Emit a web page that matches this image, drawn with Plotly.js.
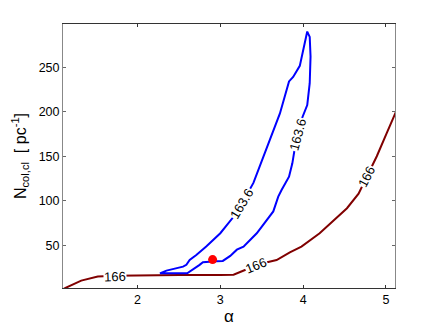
<!DOCTYPE html>
<html>
<head>
<meta charset="utf-8">
<script src="https://cdn.plot.ly/plotly-3.0.1.min.js"></script>
<style>html,body{margin:0;padding:0;background:#fff}#chart{width:436px;height:328px}</style>
</head>
<body>
<div id="chart"></div>
<script>
// Contour level 166 (dark red)
var level166X = [1.10, 1.13, 1.32, 1.52, 1.73, 2.0, 2.5, 3.0, 3.16, 3.32, 3.43, 3.54, 3.68, 3.84, 3.98, 4.2, 4.4, 4.53, 4.67, 4.77, 4.89, 5.01, 5.11, 5.15];
var level166Y = [0.5, 2.1, 10.3, 14.8, 15.8, 16.3, 16.5, 16.6, 16.9, 23.0, 27.5, 30.4, 33.4, 42.0, 48.5, 63.5, 80.0, 91.6, 108, 127, 150, 176, 196.5, 206];
// Contour level 163.6 (blue, closed loop)
var level1636X = [2.27, 2.35, 2.55, 2.59, 2.63, 2.71, 2.83, 3.00, 3.16, 3.26, 3.40, 3.52, 3.64, 3.72, 3.83, 3.88, 3.96, 4.00, 4.05, 4.08, 4.09, 4.08, 4.05, 3.98, 3.94, 3.90, 3.87, 3.83, 3.74, 3.70, 3.64, 3.56, 3.44, 3.28, 3.20, 3.12, 3.03, 2.95, 2.79, 2.75, 2.69, 2.60, 2.27];
var level1636Y = [18.5, 21.5, 26.0, 28.0, 33.5, 39.0, 48.5, 63.5, 82.0, 97.0, 120, 150, 178, 198, 234, 239, 251.5, 269.5, 290, 284, 262, 232, 207.5, 191, 174, 159, 142, 127, 112, 104.7, 88.0, 78.5, 63.5, 48.5, 45.0, 38.0, 32.4, 32.0, 31.0, 28.0, 24.0, 18.5, 18.5];
// Marked point
var pointX = [2.907];
var pointY = [33.9];
// Contour labels
var labelText = ["166", "166", "166", "163.6", "163.6"];
var labelX = [1.734, 3.427, 4.77, 3.258, 3.94];
var labelY = [15.4, 27.8, 127, 97.3, 174];
var labelAngle = [-2, -22, -63, -59, -75];

var xTicks = [2, 3, 4, 5];
var yTicks = [50, 100, 150, 200, 250];

var traces = [
  {x: level166X, y: level166Y, type: 'scatter', mode: 'lines', line: {color: '#800000', width: 2}, hoverinfo: 'skip'},
  {x: level1636X, y: level1636Y, type: 'scatter', mode: 'lines', line: {color: '#0000ff', width: 2}, hoverinfo: 'skip'},
  {x: pointX, y: pointY, type: 'scatter', mode: 'markers', marker: {color: '#ff0000', size: 9}, hoverinfo: 'skip'}
];

var annotations = labelText.map(function (t, i) {
  return {x: labelX[i], y: labelY[i], xref: 'x', yref: 'y', text: t, showarrow: false,
    textangle: labelAngle[i], bgcolor: '#ffffff', borderpad: 0,
    font: {family: 'Liberation Sans, Arial, sans-serif', size: 13, color: '#000'}};
});

var layout = {
  width: 436, height: 328,
  margin: {l: 63, r: 41, t: 24, b: 40},
  paper_bgcolor: '#ffffff', plot_bgcolor: '#ffffff',
  showlegend: false,
  font: {family: 'Liberation Sans, Arial, sans-serif', size: 12.5, color: '#000'},
  xaxis: {
    range: [1.1, 5.11], tickvals: xTicks, ticks: 'inside', ticklen: 3, tickcolor: '#333',
    showline: true, linecolor: '#333', linewidth: 1, mirror: 'ticks', showgrid: false, zeroline: false,
    title: {text: 'α', font: {size: 17}, standoff: 4}
  },
  yaxis: {
    range: [2, 298.5], tickvals: yTicks, ticks: 'inside', ticklen: 3, tickcolor: '#666',
    showline: true, linecolor: '#888', linewidth: 1, mirror: 'ticks', showgrid: false, zeroline: false,
    title: {text: 'N<sub>col,cl</sub>  [ pc<sup>-1</sup>]', font: {size: 16}, standoff: 8}
  },
  annotations: annotations
};

Plotly.newPlot('chart', traces, layout, {staticPlot: true, displayModeBar: false});
</script>
</body>
</html>
